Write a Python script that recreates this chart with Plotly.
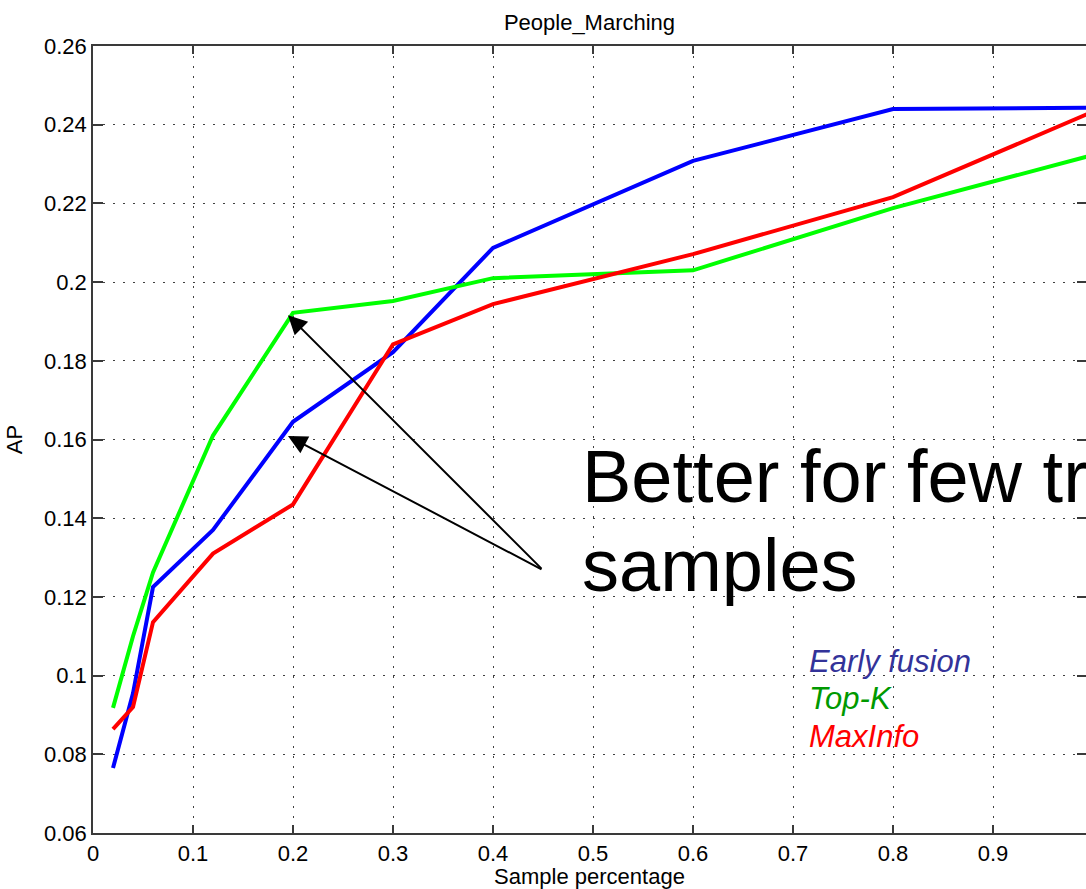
import plotly.graph_objects as go

# ---- data ----
sample_pct = [0.02, 0.04, 0.06, 0.12, 0.2, 0.3, 0.4, 0.6, 0.8, 1.0]
early_fusion = [0.0765, 0.0955, 0.1225, 0.1370, 0.1645, 0.1822, 0.2087, 0.2308, 0.2440, 0.2443]
top_k = [0.0918, 0.1100, 0.1262, 0.1610, 0.1922, 0.1952, 0.2010, 0.2030, 0.2188, 0.2323]
max_info = [0.0864, 0.0920, 0.1136, 0.1310, 0.1435, 0.1842, 0.1944, 0.2071, 0.2216, 0.2433]

series_names = ["Early fusion", "Top-K", "MaxInfo"]
line_colors = ["#0000ff", "#00ff00", "#ff0000"]
label_colors = ["#333399", "#009900", "#ff0000"]

x_tickvals = [0, 0.1, 0.2, 0.3, 0.4, 0.5, 0.6, 0.7, 0.8, 0.9, 1.0]
x_ticktext = ["0", "0.1", "0.2", "0.3", "0.4", "0.5", "0.6", "0.7", "0.8", "0.9", "1"]
y_tickvals = [0.06, 0.08, 0.10, 0.12, 0.14, 0.16, 0.18, 0.20, 0.22, 0.24, 0.26]
y_ticktext = ["0.06", "0.08", "0.1", "0.12", "0.14", "0.16", "0.18", "0.2", "0.22", "0.24", "0.26"]

FONT = "Liberation Sans, Arial, sans-serif"
AX = "#3a3a3a"
GRID = "#404040"

fig = go.Figure()
for name, ys, col in zip(series_names, [early_fusion, top_k, max_info], line_colors):
    fig.add_trace(go.Scatter(x=sample_pct, y=ys, mode="lines", name=name,
                             line=dict(color=col, width=4), showlegend=False))

# invisible trace to anchor right-side tick marks
fig.add_trace(go.Scatter(x=[sample_pct[0]], y=[early_fusion[0]], yaxis="y2", mode="lines",
                         showlegend=False, hoverinfo="skip", line=dict(width=0)))

fig.update_layout(
    width=1086, height=889,
    margin=dict(l=93, r=0, t=46, b=56),
    paper_bgcolor="white", plot_bgcolor="white",
    font=dict(family=FONT, size=22, color="black"),
    title=dict(text="People_Marching", x=0.5, xanchor="center", xref="paper",
               y=1 - 22 / 889, yanchor="middle", yref="container",
               font=dict(family=FONT, size=22, color="black")),
    xaxis=dict(range=[0, 0.993], tickvals=x_tickvals, ticktext=x_ticktext,
               ticks="inside", ticklen=8, tickwidth=1.5, tickcolor=AX,
               showline=True, linecolor=AX, linewidth=1.5, mirror="ticks",
               showgrid=True, gridcolor=GRID, gridwidth=1, griddash="2px,8px",
               zeroline=False,
               title=dict(text="Sample percentage", standoff=4,
                          font=dict(family=FONT, size=22)),
               tickfont=dict(family=FONT, size=22)),
    yaxis=dict(range=[0.06, 0.26], tickvals=y_tickvals, ticktext=y_ticktext,
               ticks="inside", ticklen=10, tickwidth=1.5, tickcolor=AX,
               showline=True, linecolor=AX, linewidth=1.5,
               showgrid=True, gridcolor=GRID, gridwidth=1, griddash="2px,8px",
               zeroline=False,
               title=dict(text="AP", standoff=15, font=dict(family=FONT, size=22)),
               tickfont=dict(family=FONT, size=22)),
    yaxis2=dict(overlaying="y", side="right", matches="y", range=[0.06, 0.26],
                tickvals=y_tickvals, ticks="inside", ticklen=9, tickwidth=1.5,
                tickcolor=AX, showticklabels=False, showgrid=False,
                showline=False, zeroline=False),
)

# big text
fig.add_annotation(x=0.487, y=0.1505, xref="x", yref="y", text="Better for few training",
                   showarrow=False, xanchor="left", yanchor="middle",
                   font=dict(family=FONT, size=74, color="black"))
fig.add_annotation(x=0.487, y=0.1281, xref="x", yref="y", text="samples",
                   showarrow=False, xanchor="left", yanchor="middle",
                   font=dict(family=FONT, size=74, color="black"))

# arrows
for hx, hy in [(0.195, 0.1916), (0.195, 0.1609)]:
    fig.add_annotation(x=hx, y=hy, xref="x", yref="y", ax=0.45, ay=0.1268,
                       axref="x", ayref="y", text="", showarrow=True,
                       arrowhead=2, arrowsize=1.9, arrowwidth=2, arrowcolor="black",
                       standoff=0, startstandoff=0)

# coloured labels
label_y = [0.1037, 0.0941, 0.0844]
for name, col, ly in zip(series_names, label_colors, label_y):
    fig.add_annotation(x=0.714, y=ly, xref="x", yref="y",
                       text="<i>" + name + "</i>", showarrow=False,
                       xanchor="left", yanchor="middle",
                       font=dict(family=FONT, size=31, color=col))

fig.write_html(
    "out.html",
    config={"displayModeBar": False},
    post_script="document.body.style.margin='0';document.body.style.overflow='hidden';",
)
